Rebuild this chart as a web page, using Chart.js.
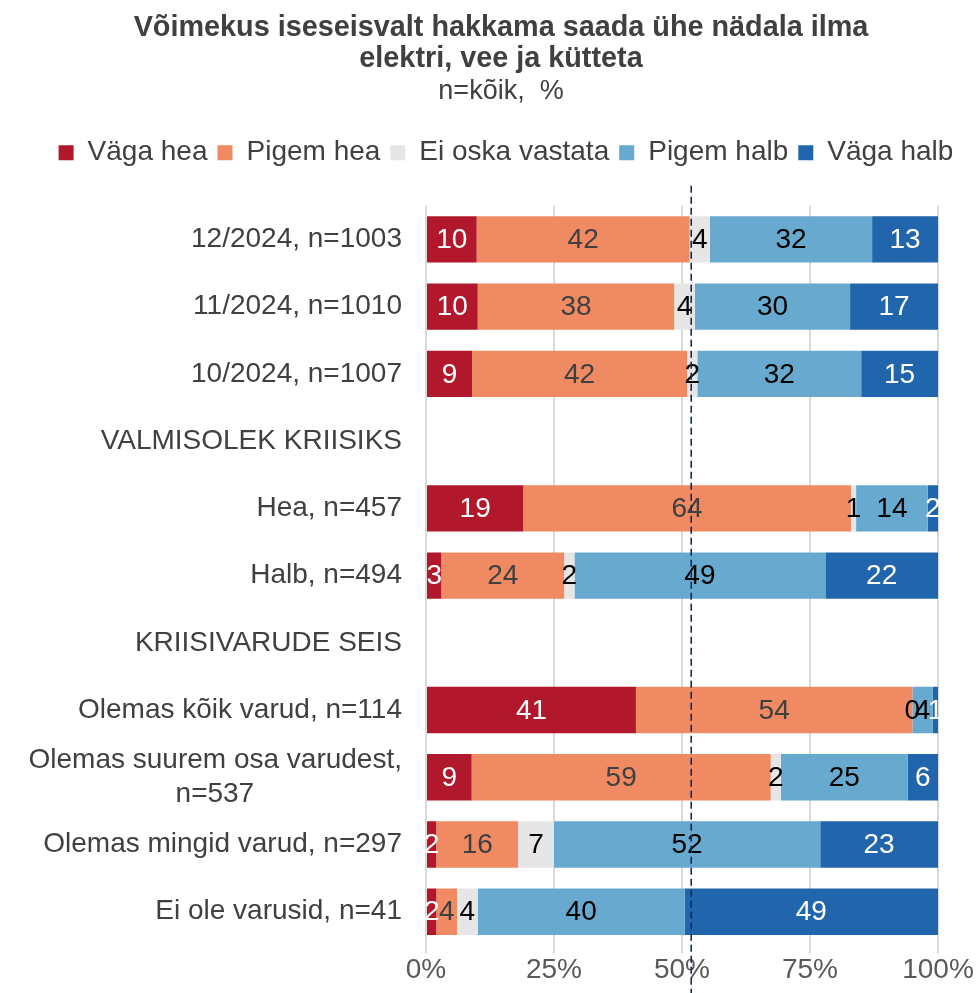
<!DOCTYPE html>
<html>
<head>
<meta charset="utf-8">
<script src="https://cdn.jsdelivr.net/npm/chart.js@4.4.1/dist/chart.umd.min.js"></script>
<style>
  html, body { margin: 0; padding: 0; background: #fff; }
  #wrap { width: 978px; height: 993px; }
</style>
</head>
<body>
<div id="wrap"><canvas id="chart"></canvas></div>
<script>
// Data
const categories = [
    '12/2024, n=1003',
    '11/2024, n=1010',
    '10/2024, n=1007',
    'VALMISOLEK KRIISIKS',
    'Hea, n=457',
    'Halb, n=494',
    'KRIISIVARUDE SEIS',
    'Olemas kõik varud, n=114',
    ['Olemas suurem osa varudest,', 'n=537' + '\u00a0'.repeat(19)],
    'Olemas mingid varud, n=297',
    'Ei ole varusid, n=41'
];
const seriesNames = ['Väga hea', 'Pigem hea', 'Ei oska vastata', 'Pigem halb', 'Väga halb'];
const vagaHea   = [10, 10,  9, null, 19,  3, null, 41,  9,  2,  2];
const pigemHea  = [42, 38, 42, null, 64, 24, null, 54, 59, 16,  4];
const eiOska    = [ 4,  4,  2, null,  1,  2, null,  0,  2,  7,  4];
const pigemHalb = [32, 30, 32, null, 14, 49, null,  4, 25, 52, 40];
const vagaHalb  = [13, 17, 15, null,  2, 22, null,  1,  6, 23, 49];
const xTicks = [0, 25, 50, 75, 100];
const markerAt = 51.8; // dashed reference line

const colors = ['#B2182B', '#EF8A62', '#E6E6E6', '#67A9CF', '#2166AC'];
const labelColors = ['#ffffff', '#404040', '#000000', '#000000', '#ffffff'];

// 100% stacked: scale each row to its sum
const series = [vagaHea, pigemHea, eiOska, pigemHalb, vagaHalb];
const rowSums = categories.map((_, i) => series.reduce((s, arr) => s + (arr[i] || 0), 0));
const asShare = arr => arr.map((v, i) => v === null ? null : v / rowSums[i] * 100);

const FONT = '"Liberation Sans", Arial, sans-serif';

// Value labels inside the segments
const segmentLabels = {
    id: 'segmentLabels',
    afterDatasetsDraw(chart) {
        const ctx = chart.ctx;
        ctx.save();
        ctx.font = '28px ' + FONT;
        ctx.textAlign = 'center';
        ctx.textBaseline = 'middle';
        chart.data.datasets.forEach((ds, di) => {
            const meta = chart.getDatasetMeta(di);
            meta.data.forEach((bar, i) => {
                const raw = series[di][i];
                if (raw === null) return;
                const { x, y, base } = bar.getProps(['x', 'y', 'base'], true);
                ctx.fillStyle = labelColors[di];
                ctx.fillText(String(raw), (x + base) / 2, y + 1);
            });
        });
        ctx.restore();
    }
};

// Dashed vertical line
const dashedLine = {
    id: 'dashedLine',
    afterDraw(chart) {
        const ctx = chart.ctx;
        const x = chart.scales.x.getPixelForValue(markerAt);
        ctx.save();
        ctx.strokeStyle = '#13295C';
        ctx.lineWidth = 1.6;
        ctx.setLineDash([7, 4]);
        ctx.beginPath();
        ctx.moveTo(x, chart.chartArea.top - 20);
        ctx.lineTo(x, chart.height);
        ctx.stroke();
        ctx.restore();
    }
};

// Extra room below the legend, and header blocks centred over the plot side
const headerTweaks = {
    id: 'headerTweaks',
    beforeLayout(chart) {
        const legend = chart.legend;
        if (legend && !legend._gapPatched) {
            const fit = legend.fit;
            legend.fit = function () {
                fit.call(this);
                this.height += 29;
            };
            legend._gapPatched = true;
        }
    },
    afterLayout(chart) {
        chart.boxes.forEach(box => {
            if (box.position !== 'top' || box.axis) return;
            const shift = box === chart.legend ? 37 : 32;
            box.left += shift;
            box.right += shift;
        });
    }
};

const ctx = document.getElementById('chart').getContext('2d');
const chart = new Chart(ctx, {
    type: 'bar',
    data: {
        labels: categories,
        datasets: seriesNames.map((name, i) => ({
            label: name,
            data: asShare(series[i]),
            backgroundColor: colors[i],
            borderWidth: 0,
            categoryPercentage: 1,
            barPercentage: 0.69
        }))
    },
    options: {
        indexAxis: 'y',
        responsive: true,
        maintainAspectRatio: false,
        animation: false,
        layout: {
            padding: { left: 0, right: 40, top: 0, bottom: 6 }
        },
        plugins: {
            title: {
                display: true,
                text: ['Võimekus iseseisvalt hakkama saada ühe nädala ilma', 'elektri, vee ja kütteta'],
                color: '#404040',
                font: { family: FONT, size: 28.8, weight: 'bold', lineHeight: 1.1 },
                padding: { top: 12, bottom: 0 }
            },
            subtitle: {
                display: true,
                text: 'n=kõik,  %',
                color: '#404040',
                font: { family: FONT, size: 27, lineHeight: 1.2 },
                padding: { top: 0, bottom: 21 }
            },
            legend: {
                position: 'top',
                labels: {
                    color: '#404040',
                    font: { family: FONT, size: 28 },
                    boxWidth: 15,
                    boxHeight: 15,
                    padding: 10
                }
            },
            tooltip: { enabled: false }
        },
        scales: {
            x: {
                stacked: true,
                min: 0,
                max: 100,
                afterBuildTicks: scale => {
                    scale.ticks = xTicks.map(v => ({ value: v }));
                },
                ticks: {
                    color: '#595959',
                    font: { family: FONT, size: 28 },
                    padding: 0,
                    maxRotation: 0,
                    callback: v => v + '%'
                },
                grid: {
                    color: '#D9D9D9',
                    lineWidth: 2,
                    drawTicks: true,
                    tickLength: 8
                },
                border: { display: false }
            },
            y: {
                stacked: true,
                afterFit: scale => { scale.width = 426; },
                ticks: {
                    color: '#404040',
                    font: { family: FONT, size: 28 },
                    padding: 16,
                    autoSkip: false
                },
                grid: { display: false },
                border: { display: false }
            }
        }
    },
    plugins: [segmentLabels, dashedLine, headerTweaks]
});
</script>
</body>
</html>
